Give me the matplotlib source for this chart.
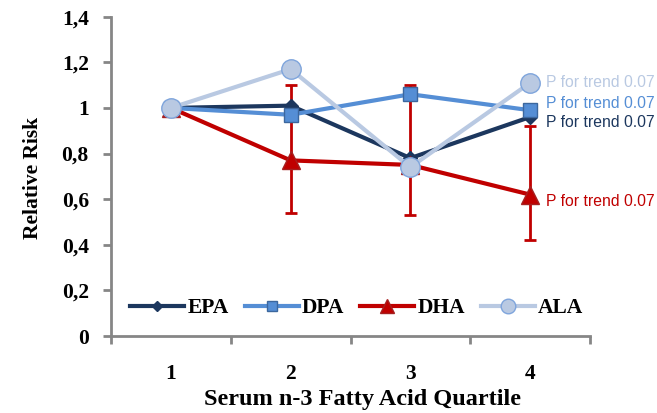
import numpy as np
import matplotlib.pyplot as plt
from matplotlib.ticker import FixedLocator, FuncFormatter

quartiles = [1, 2, 3, 4]
epa = [1.0, 1.01, 0.78, 0.96]
dpa = [1.0, 0.97, 1.06, 0.99]
dha = [1.0, 0.77, 0.75, 0.62]
ala = [1.0, 1.17, 0.74, 1.11]
dha_lo = [1.0, 0.54, 0.53, 0.42]
dha_hi = [1.0, 1.10, 1.10, 0.92]
trend_text = "P for trend 0.07"
trend_y = [1.11, 1.02, 0.935, 0.59]   # ALA, DPA, EPA, DHA label heights

c_epa = "#1c375e"
c_dpa = "#558ed5"
c_dha = "#c00000"
c_ala = "#b9c9e2"

plt.rcParams['font.family'] = ['Liberation Serif', 'DejaVu Serif']

fig = plt.figure(figsize=(6.57, 4.13), dpi=100)
ax = fig.add_axes([111/657, 77/413, (590-111)/657, (396.3-77)/413])

x = np.array(quartiles)
yerr = [np.array(dha) - np.array(dha_lo), np.array(dha_hi) - np.array(dha)]
ax.errorbar(x[1:], np.array(dha)[1:], yerr=[yerr[0][1:], yerr[1][1:]], fmt='none',
            ecolor=c_dha, elinewidth=2, capsize=4.5, capthick=2, zorder=1)

ax.plot(x, epa, color=c_epa, lw=3, marker='D', ms=7, mfc=c_epa, mec=c_epa, label="EPA", zorder=2)
ax.plot(x, dpa, color=c_dpa, lw=3, marker='s', ms=10, mfc=c_dpa, mec="#3c679e", label="DPA", zorder=3)
ax.plot(x, dha, color=c_dha, lw=3, marker='^', ms=13, mfc=c_dha, mec="#a52020", label="DHA", zorder=4)
ax.plot(x, ala, color=c_ala, lw=3, marker='o', ms=14, mfc=c_ala, mec="#7fa5dc", label="ALA", zorder=5)

for yv, col in zip(trend_y, [c_ala, c_dpa, c_epa, c_dha]):
    ax.text(4.135, yv, trend_text, color=col, fontsize=11.3, family='Liberation Sans',
            va='center', ha='left', clip_on=False)

ax.set_xlim(0.5, 4.5)
ax.set_ylim(0, 1.4)
ax.yaxis.set_major_locator(FixedLocator(np.arange(0, 1.41, 0.2)))
ax.yaxis.set_major_formatter(FuncFormatter(
    lambda v, p: ("%g" % round(v, 1)).replace('.', ',')))
ax.set_xticks(quartiles)
ax.set_xticklabels([str(q) for q in quartiles])
ax.xaxis.set_minor_locator(FixedLocator([0.5, 1.5, 2.5, 3.5, 4.5]))
ax.tick_params(axis='x', which='major', length=0, pad=20, labelsize=15.5)
ax.tick_params(axis='x', which='minor', length=6, width=2, color='#868686', direction='out')
ax.tick_params(axis='y', length=6, width=2, color='#868686', pad=10, labelsize=15.5)

for s in ['top', 'right']:
    ax.spines[s].set_visible(False)
for s in ['left', 'bottom']:
    ax.spines[s].set_color('#868686')
    ax.spines[s].set_linewidth(2)

for t in ax.get_xticklabels() + ax.get_yticklabels():
    t.set_fontweight('bold')

leg = ax.legend(loc='lower left', bbox_to_anchor=(0.0, -0.005), ncol=4, frameon=False,
                handlelength=2.5, columnspacing=0.75, handletextpad=0.15,
                prop={'family': 'Liberation Serif', 'weight': 'bold', 'size': 15.5},
                markerscale=0.75)

fig.text(33/657, 1 - 178/413, "Relative Risk", rotation=90, ha='center', va='center',
         fontsize=15.5, fontweight='bold')
fig.text(362/657, 1 - 400/413, "Serum n-3 Fatty Acid Quartile", ha='center', va='center',
         fontsize=17.5, fontweight='bold')

fig.savefig("out.png", dpi=100)
